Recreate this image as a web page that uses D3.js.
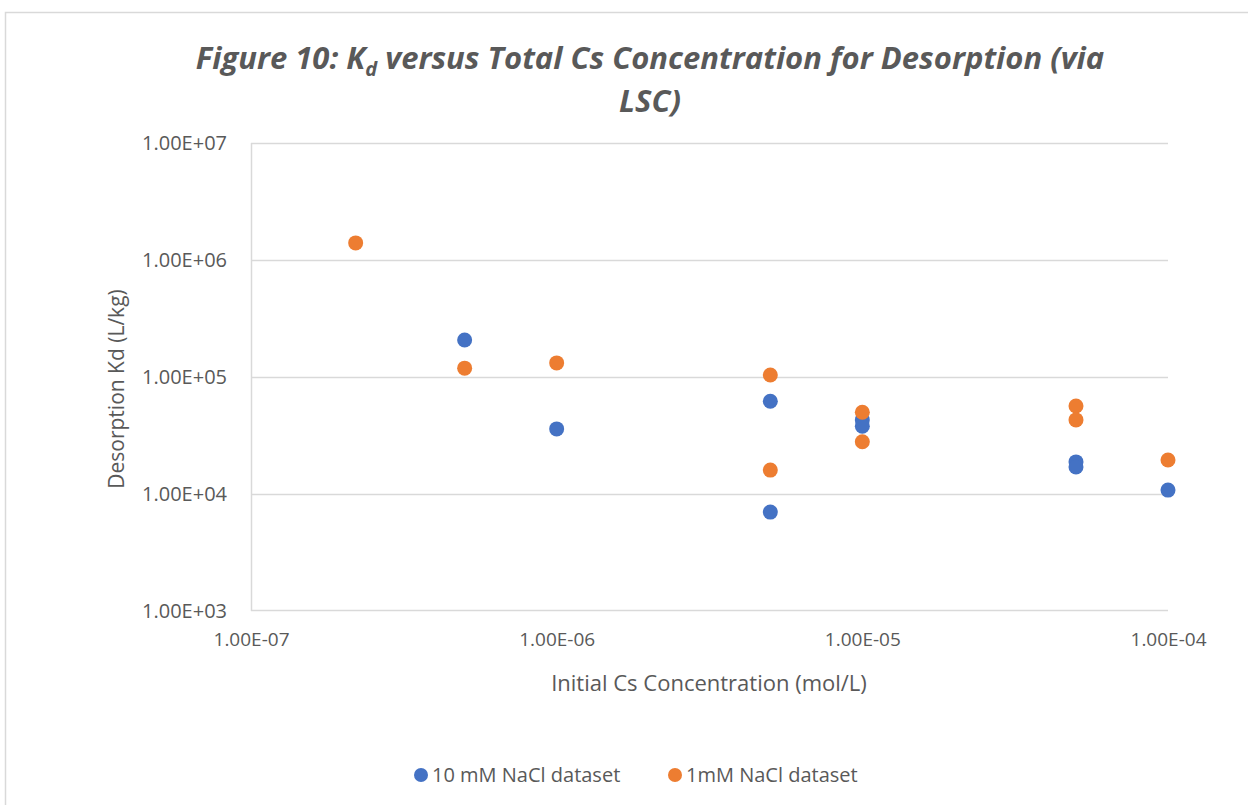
<!DOCTYPE html>
<html>
<head>
<meta charset="utf-8">
<script src="https://cdn.jsdelivr.net/npm/d3@7"></script>
<style>
  body { margin: 0; background: #fff; }
  svg { display: block; font-family: "Open Sans", "Liberation Sans", sans-serif; }
</style>
</head>
<body>
<div id="chart"></div>
<script>
// 10 mM NaCl series
const naCl10X = [5e-7, 1e-6, 5e-6, 5e-6, 1e-5, 1e-5, 5e-5, 5e-5, 1e-4];
const naCl10Y = [2.07e5, 3.6e4, 6.2e4, 7.0e3, 4.3e4, 3.8e4, 1.88e4, 1.7e4, 1.08e4];
// 1 mM NaCl series
const naCl1X = [2.2e-7, 5e-7, 1e-6, 5e-6, 5e-6, 1e-5, 1e-5, 5e-5, 5e-5, 1e-4];
const naCl1Y = [1.4e6, 1.19e5, 1.32e5, 1.04e5, 1.6e4, 5.0e4, 2.8e4, 5.65e4, 4.3e4, 1.95e4];

const xTicks = [1e-7, 1e-6, 1e-5, 1e-4];
const yTicks = [1e3, 1e4, 1e5, 1e6, 1e7];

const series = [
  { name: "10 mM NaCl dataset", color: "#4472C4", xs: naCl10X, ys: naCl10Y },
  { name: "1mM NaCl dataset", color: "#ED7D31", xs: naCl1X, ys: naCl1Y }
];

const W = 1248, H = 805;
const plot = { left: 251, right: 1168, top: 143, bottom: 611 };
const textColor = "#595959";
const gridColor = "#D9D9D9";

const svg = d3.select("#chart").append("svg")
  .attr("width", W).attr("height", H);

// chart area frame
svg.append("rect")
  .attr("x", 5.5).attr("y", 12.5)
  .attr("width", 1400).attr("height", 900)
  .attr("fill", "#fff").attr("stroke", gridColor).attr("stroke-width", 1.5);

const x = d3.scaleLog().domain([1e-7, 1e-4]).range([plot.left, plot.right]);
const y = d3.scaleLog().domain([1e3, 1e7]).range([plot.bottom, plot.top]);

const fmtE = (d) => {
  const e = Math.round(Math.log10(d));
  const sign = e < 0 ? "-" : "+";
  return "1.00E" + sign + String(Math.abs(e)).padStart(2, "0");
};

// gridlines
svg.append("g")
  .selectAll("line")
  .data(yTicks.slice(1))
  .join("line")
  .attr("x1", plot.left).attr("x2", plot.right)
  .attr("y1", (d) => Math.round(y(d)) + 0.5).attr("y2", (d) => Math.round(y(d)) + 0.5)
  .attr("stroke", gridColor).attr("stroke-width", 1.5);

// axes lines
svg.append("line")
  .attr("x1", plot.left).attr("x2", plot.right)
  .attr("y1", plot.bottom - 0.5).attr("y2", plot.bottom - 0.5)
  .attr("stroke", gridColor).attr("stroke-width", 1.5);
svg.append("line")
  .attr("x1", plot.left + 0.5).attr("x2", plot.left + 0.5)
  .attr("y1", plot.top).attr("y2", plot.bottom)
  .attr("stroke", gridColor).attr("stroke-width", 1.5);

// y axis
svg.append("g")
  .attr("transform", `translate(${plot.left},0)`)
  .call(d3.axisLeft(y).tickValues(yTicks).tickFormat(fmtE).tickSize(0).tickPadding(24))
  .call((g) => g.select(".domain").remove())
  .selectAll("text")
  .attr("fill", textColor)
  .attr("font-size", "20px")
  .attr("font-family", "'Open Sans', sans-serif");

// x axis
svg.append("g")
  .attr("transform", `translate(0,${plot.bottom})`)
  .call(d3.axisBottom(x).tickValues(xTicks).tickFormat(fmtE).tickSize(0).tickPadding(22))
  .call((g) => g.select(".domain").remove())
  .selectAll("text")
  .attr("fill", textColor)
  .attr("font-size", "19px")
  .attr("font-family", "'Open Sans', sans-serif");

// points
series.forEach((s) => {
  svg.append("g")
    .selectAll("circle")
    .data(s.xs.map((v, i) => [v, s.ys[i]]))
    .join("circle")
    .attr("cx", (d) => x(d[0]))
    .attr("cy", (d) => y(d[1]))
    .attr("r", 7.5)
    .attr("fill", s.color);
});

// title
const title = svg.append("text")
  .attr("text-anchor", "middle")
  .attr("fill", textColor)
  .attr("font-size", "31px")
  .attr("font-weight", "bold")
  .attr("font-style", "italic");
title.append("tspan").attr("x", 650).attr("y", 69).text("Figure 10: K");
title.append("tspan").attr("font-size", "20px").attr("dy", 7).text("d");
title.append("tspan").attr("dy", -7).text(" versus Total Cs Concentration for Desorption (via");
title.append("tspan").attr("x", 650).attr("y", 112).text("LSC)");

// axis titles
svg.append("text")
  .attr("x", 709).attr("y", 691)
  .attr("text-anchor", "middle")
  .attr("fill", textColor).attr("font-size", "22px")
  .text("Initial Cs Concentration (mol/L)");

svg.append("text")
  .attr("transform", "translate(124,389) rotate(-90)")
  .attr("text-anchor", "middle")
  .attr("fill", textColor).attr("font-size", "21px")
  .text("Desorption Kd (L/kg)");

// legend
const legendX = [421, 675];
series.forEach((s, i) => {
  const g = svg.append("g").attr("transform", `translate(${legendX[i]},775)`);
  g.append("circle").attr("r", 7).attr("fill", s.color);
  g.append("text").attr("x", 11).attr("dy", "0.35em")
    .attr("fill", textColor).attr("font-size", "20px")
    .text(s.name);
});
</script>
</body>
</html>
